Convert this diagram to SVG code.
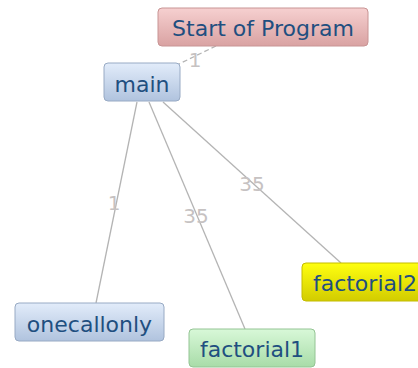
<svg xmlns="http://www.w3.org/2000/svg" width="418" height="368" viewBox="0 0 418 368">
<defs>
<linearGradient id="gPink" x1="0" y1="0" x2="0" y2="1"><stop offset="0" stop-color="#f6d0d0"/><stop offset="1" stop-color="#d9a2a2"/></linearGradient>
<linearGradient id="gBlue" x1="0" y1="0" x2="0" y2="1"><stop offset="0" stop-color="#e2ecfa"/><stop offset="1" stop-color="#b0c3de"/></linearGradient>
<linearGradient id="gGreen" x1="0" y1="0" x2="0" y2="1"><stop offset="0" stop-color="#d8f8d8"/><stop offset="1" stop-color="#a8dca8"/></linearGradient>
<linearGradient id="gYellow" x1="0" y1="0" x2="0" y2="1"><stop offset="0" stop-color="#ffff10"/><stop offset="1" stop-color="#d2cc00"/></linearGradient>
</defs>
<style>
.node text{font-family:"DejaVu Sans",sans-serif;font-size:22px;fill:#1f4f80;text-anchor:middle}
.node rect{stroke-width:1}
.edge{stroke:#b4b4b4;stroke-width:1.3;fill:none}
.dash{stroke-dasharray:5,3}
.lbl{font-family:"DejaVu Sans",sans-serif;font-size:20px;fill:#c6c2c2;text-anchor:middle}
</style>
<g id="connectors">
<line class="edge dash" x1="216" y1="46" x2="179" y2="64"/>
<line class="edge" x1="137" y1="102" x2="96" y2="303"/>
<line class="edge" x1="149" y1="102" x2="245" y2="329"/>
<line class="edge" x1="163" y1="102" x2="341" y2="263"/>
<text class="lbl" x="195" y="67">1</text>
<text class="lbl" x="114" y="210">1</text>
<text class="lbl" x="196" y="223">35</text>
<text class="lbl" x="252" y="191">35</text>
</g>
<g id="start" class="node">
<rect x="158" y="8" width="210" height="38" rx="4" fill="url(#gPink)" stroke="#c89494"/>
<text x="263" y="36">Start of Program</text>
</g>
<g id="main" class="node">
<rect x="104" y="63" width="76" height="38" rx="4" fill="url(#gBlue)" stroke="#98aac4"/>
<text x="142" y="92">main</text>
</g>
<g id="onecallonly" class="node">
<rect x="15" y="303" width="149" height="38" rx="4" fill="url(#gBlue)" stroke="#98aac4"/>
<text x="89.5" y="332">onecallonly</text>
</g>
<g id="factorial1" class="node">
<rect x="189" y="329" width="126" height="38" rx="4" fill="url(#gGreen)" stroke="#94c494"/>
<text x="252" y="357">factorial1</text>
</g>
<g id="factorial2" class="node">
<rect x="302" y="263" width="126" height="38" rx="4" fill="url(#gYellow)" stroke="#c4bc00"/>
<text x="365" y="291">factorial2</text>
</g>
</svg>
